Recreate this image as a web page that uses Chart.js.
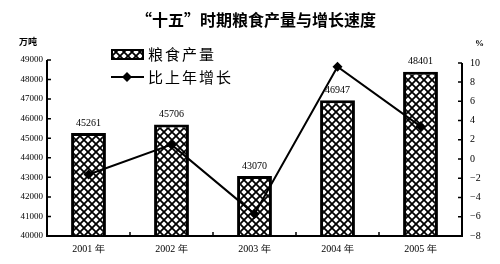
<!DOCTYPE html>
<html>
<head>
<meta charset="utf-8">
<script src="https://cdn.jsdelivr.net/npm/chart.js@4"></script>
<style>
  html, body { margin: 0; padding: 0; background: #fff; }
  #wrap { width: 500px; height: 264px; position: relative; }
</style>
</head>
<body>
<div id="wrap"><canvas id="grain-chart" width="500" height="264"></canvas></div>
<script>
// data
const years = ['2001 年', '2002 年', '2003 年', '2004 年', '2005 年'];
const output = [45261, 45706, 43070, 46947, 48401];   // 万吨
const growth = [-1.6, 1.5, -5.7, 9.6, 3.4];           // %
const leftTicks = [40000, 41000, 42000, 43000, 44000, 45000, 46000, 47000, 48000, 49000];
const rightTicks = [-8, -6, -4, -2, 0, 2, 4, 6, 8, 10];

const CJK = '"Noto Sans CJK SC", sans-serif';
const SERIF = '"Liberation Serif", "DejaVu Serif", serif';

// cross hatch fill for the bars
function makeHatch() {
  const c = document.createElement('canvas');
  c.width = 8; c.height = 8;
  const g = c.getContext('2d');
  g.fillStyle = '#fff';
  g.fillRect(0, 0, 8, 8);
  g.strokeStyle = '#000';
  g.lineWidth = 1.8;
  g.beginPath();
  g.moveTo(-1, -1); g.lineTo(9, 9);
  g.moveTo(-1, 9); g.lineTo(9, -1);
  g.stroke();
  return g.createPattern(c, 'repeat');
}
const hatch = makeHatch();

function drawDiamond(ctx, x, y, r) {
  ctx.beginPath();
  ctx.moveTo(x, y - r);
  ctx.lineTo(x + r, y);
  ctx.lineTo(x, y + r);
  ctx.lineTo(x - r, y);
  ctx.closePath();
  ctx.fill();
}

function spacedText(ctx, str, x, y, step) {
  [...str].forEach((ch, i) => ctx.fillText(ch, x + i * step, y));
}

const decorations = {
  id: 'decorations',
  afterDraw(chart) {
    const ctx = chart.ctx;
    const { left, right, bottom } = chart.chartArea;
    const y = chart.scales.y, y1 = chart.scales.y1, x = chart.scales.x;
    ctx.save();
    ctx.fillStyle = '#000';
    ctx.strokeStyle = '#000';

    // title
    ctx.font = 'bold 16px ' + CJK;
    ctx.textAlign = 'center';
    ctx.textBaseline = 'middle';
    ctx.fillText('“十五”时期粮食产量与增长速度', 256, 20);

    // units
    ctx.font = 'bold 9px ' + CJK;
    ctx.textAlign = 'left';
    ctx.fillText('万吨', 19, 42);
    ctx.font = 'bold 9px ' + SERIF;
    ctx.fillText('%', 475, 44);

    // axes
    ctx.lineWidth = 2;
    ctx.beginPath();
    ctx.moveTo(left, y.getPixelForValue(49000));
    ctx.lineTo(left, bottom);
    ctx.lineTo(right, bottom);
    ctx.lineTo(right, y1.getPixelForValue(10));
    ctx.stroke();
    ctx.lineWidth = 1.5;
    ctx.beginPath();
    leftTicks.forEach(v => {
      const p = y.getPixelForValue(v);
      ctx.moveTo(left, p); ctx.lineTo(left + 4, p);
    });
    rightTicks.forEach(v => {
      const p = y1.getPixelForValue(v);
      ctx.moveTo(right, p); ctx.lineTo(right - 4, p);
    });
    for (let i = 1; i < years.length; i++) {
      const p = (x.getPixelForValue(i - 1) + x.getPixelForValue(i)) / 2;
      ctx.moveTo(p, bottom); ctx.lineTo(p, bottom - 4);
    }
    ctx.stroke();

    // bar value labels
    ctx.font = '10px ' + SERIF;
    ctx.textAlign = 'center';
    ctx.textBaseline = 'bottom';
    chart.getDatasetMeta(0).data.forEach((bar, i) => {
      ctx.fillText(String(output[i]), bar.x, bar.y - 5);
    });

    // legend
    ctx.fillStyle = hatch;
    ctx.fillRect(112, 50, 31, 9);
    ctx.lineWidth = 2;
    ctx.strokeRect(112, 50, 31, 9);
    ctx.fillStyle = '#000';
    ctx.beginPath();
    ctx.moveTo(111, 77); ctx.lineTo(144, 77);
    ctx.stroke();
    drawDiamond(ctx, 127, 77, 5);
    ctx.font = '15px ' + CJK;
    ctx.textAlign = 'left';
    ctx.textBaseline = 'middle';
    spacedText(ctx, '粮食产量', 148, 54, 17);
    spacedText(ctx, '比上年增长', 148, 77, 17);

    ctx.restore();
  }
};

new Chart(document.getElementById('grain-chart'), {
  data: {
    labels: years,
    datasets: [
      {
        type: 'bar',
        data: output,
        yAxisID: 'y',
        backgroundColor: hatch,
        borderColor: '#000',
        borderWidth: 3,
        borderSkipped: 'bottom',
        barPercentage: 0.42,
        categoryPercentage: 1,
        order: 2
      },
      {
        type: 'line',
        data: growth,
        yAxisID: 'y1',
        borderColor: '#000',
        borderWidth: 2,
        backgroundColor: '#000',
        pointStyle: 'rectRot',
        pointRadius: 5,
        pointBorderWidth: 0,
        tension: 0,
        order: 1
      }
    ]
  },
  plugins: [decorations],
  options: {
    responsive: false,
    animation: false,
    layout: { padding: { top: 60, bottom: 0, left: 0, right: 0 } },
    plugins: { legend: { display: false }, tooltip: { enabled: false } },
    scales: {
      x: {
        grid: { display: false, drawTicks: false },
        border: { display: false },
        ticks: { color: '#000', font: { family: SERIF, size: 10 }, padding: 7 },
        afterFit: (s) => { s.height = 28; }
      },
      y: {
        position: 'left',
        min: 40000,
        max: 49000,
        grid: { display: false, drawTicks: false },
        border: { display: false },
        ticks: {
          stepSize: 1000,
          color: '#000',
          font: { family: SERIF, size: 9 },
          padding: 4,
          callback: (v) => String(v)
        },
        afterFit: (s) => { s.width = 47; }
      },
      y1: {
        position: 'right',
        min: -8,
        max: 10.3,
        grid: { display: false, drawTicks: false },
        border: { display: false },
        ticks: {
          stepSize: 2,
          includeBounds: false,
          color: '#000',
          font: { family: SERIF, size: 10 },
          padding: 8,
          callback: (v) => v > 10 ? '' : (v < 0 ? '−' + Math.abs(v) : String(v))
        },
        afterFit: (s) => { s.width = 38; }
      }
    }
  }
});
</script>
</body>
</html>
